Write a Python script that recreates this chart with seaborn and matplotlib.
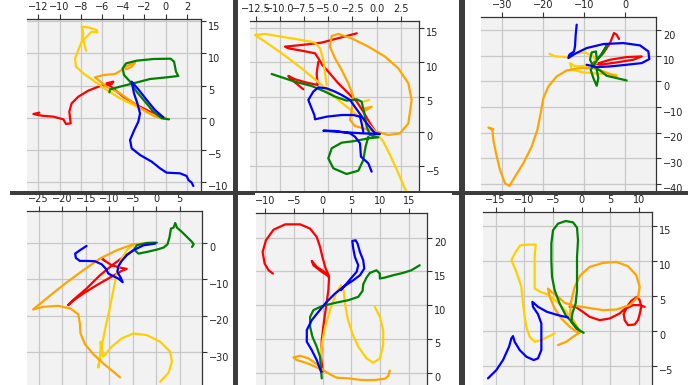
import matplotlib
matplotlib.use("Agg")
import matplotlib.pyplot as plt
import matplotlib.transforms as mtransforms
from matplotlib.patches import Rectangle
import seaborn as sns
import pandas as pd

# one list of (x, y) points per trajectory

# panel 1 (top left)
p1_red = [(-0.22, 0.05), (-1.48, 0.93), (-2.74, 1.97), (-3.99, 3.26), (-5.09, 4.72), (-5.57, 5.34),
          (-4.94, 5.60), (-5.09, 5.23), (-6.19, 4.92), (-7.30, 4.20), (-8.24, 3.26), (-8.87, 2.23),
          (-9.09, 0.93), (-8.96, -0.88), (-9.40, -0.98), (-9.65, -0.26), (-10.60, 0.16), (-11.70, 0.31),
          (-12.48, 0.57), (-11.92, 0.78)]
p1_gold = [(-0.53, -0.1), (-1.79, 0.93), (-3.05, 1.97), (-4.31, 3.01), (-5.57, 4.30), (-6.67, 5.60),
           (-7.77, 6.89), (-8.46, 7.93), (-8.55, 9.22), (-8.24, 10.52), (-7.92, 11.81), (-7.77, 13.11),
           (-7.92, 14.15), (-7.30, 14.04), (-6.51, 13.63), (-6.45, 13.26), (-6.98, 13.37), (-7.77, 12.07),
           (-7.52, 10.41)]
p1_orange = [(0, 0), (-1.0, 0.16), (-2.11, 1.19), (-3.21, 2.49), (-4.31, 3.78), (-5.57, 4.82), (-6.67, 6.27),
             (-5.88, 6.63), (-4.78, 6.79), (-4.15, 7.41), (-3.68, 8.03), (-2.89, 8.55), (-3.21, 7.93),
             (-3.74, 7.51)]
p1_green = [(0.31, -0.26), (-0.38, -0.1), (-1.16, 0.93), (-1.95, 2.49), (-2.74, 4.04), (-3.36, 5.60),
            (-3.93, 6.63), (-4.06, 7.67), (-3.74, 8.44), (-2.74, 8.86), (-1.16, 9.12), (0.47, 9.17),
            (0.79, 8.70), (0.97, 7.15), (1.19, 6.48), (0.09, 6.27), (-1.48, 6.01), (-3.05, 5.34),
            (-4.31, 4.82), (-5.25, 4.40), (-5.31, 3.94)]
p1_blue = [(-0.22, 0.05), (-1.01, 1.19), (-1.79, 2.75), (-2.58, 4.40), (-3.21, 5.60), (-2.99, 3.78),
           (-2.67, 2.23), (-2.42, 0.67), (-2.58, -0.62), (-2.99, -2.02), (-3.36, -3.47), (-3.21, -4.77),
           (-2.42, -5.80), (-1.32, -6.84), (-0.53, -7.88), (0.09, -8.55), (1.35, -8.65), (1.98, -9.07),
           (2.14, -9.69), (2.45, -10.10), (2.61, -10.62)]

# panel 2 (top middle)
p2_red = [(0, -0.24), (-0.69, 1.20), (-1.38, 2.88), (-2.06, 4.33), (-2.92, 5.53), (-3.96, 6.97),
          (-4.99, 8.65), (-5.61, 9.62), (-6.02, 10.58), (-6.36, 11.30), (-7.74, 11.68), (-9.12, 12.02),
          (-9.46, 12.26), (-7.74, 12.50), (-5.68, 12.84), (-3.61, 13.61), (-2.06, 14.18)]
p2_red_hook = [(-6.02, 10.10), (-6.19, 8.41), (-6.09, 6.73), (-7.22, 7.07), (-8.43, 7.55), (-9.12, 8.03),
               (-8.94, 7.69), (-7.57, 6.11)]
p2_gold = [(3.10, -8.80), (2.24, -6.01), (1.38, -3.37), (0.69, -1.44), (0, -0.24), (-0.86, 1.11),
           (-2.24, 2.64), (-3.96, 4.57), (-5.68, 6.73), (-7.74, 9.13), (-9.80, 11.30), (-11.52, 12.98),
           (-12.56, 13.94), (-11.52, 14.09), (-9.46, 13.61), (-7.74, 13.22), (-6.36, 12.84), (-5.85, 12.02),
           (-5.50, 10.34), (-5.33, 8.41), (-5.16, 6.73)]
p2_gold_tick = [(-1.38, 4.33), (-0.76, 4.57)]
p2_orange = [(0, 0), (1.20, -0.48), (2.41, -0.24), (3.27, 1.20), (3.61, 4.57), (3.27, 6.97), (2.24, 9.13),
             (0.86, 10.82), (-0.86, 12.26), (-2.58, 13.46), (-3.96, 14.09), (-4.64, 13.80), (-4.82, 12.26),
             (-4.30, 10.58), (-3.61, 8.89), (-2.92, 6.97), (-2.41, 5.05), (-2.58, 3.13), (-2.75, 1.68),
             (-2.24, 0.82), (-1.03, 0.34), (-0.17, 0)]
p2_orange_tick = [(-1.38, 3.3), (-0.52, 3.6), (-1.2, 3.0)]
p2_green = [(-10.84, 8.32), (-9.80, 7.84), (-8.43, 7.21), (-6.71, 6.59), (-5.33, 5.77), (-4.30, 5.05),
            (-3.10, 4.47), (-2.06, 4.66), (-1.55, 4.33), (-1.27, 2.64), (-1.03, 0.72), (-0.69, -0.48),
            (0.17, -0.82), (-0.86, -0.96), (-2.24, -1.35), (-3.61, -1.59), (-4.64, -2.40), (-4.99, -3.85),
            (-4.47, -5.29), (-3.10, -6.11), (-1.89, -5.63), (-1.38, -4.09), (-1.14, -2.16), (-0.86, -0.72)]
p2_blue = [(-0.52, -5.77), (-0.86, -4.57), (-1.62, -3.61), (-1.72, -1.68), (-2.24, -0.72), (-2.75, -0.24),
           (-4.30, 0.10), (-5.50, 0.14), (-3.61, -0.05), (-1.55, -0.24), (0.34, -0.34), (-0.17, -0.24),
           (-1.03, 1.20), (-1.89, 2.88), (-2.75, 4.57), (-3.61, 5.29), (-4.30, 5.77), (-5.16, 6.25),
           (-6.02, 6.39), (-6.54, 5.77), (-7.05, 4.57), (-6.78, 3.61), (-6.43, 2.40), (-6.36, 1.78),
           (-5.16, 2.16), (-3.61, 2.40), (-2.41, 2.40), (-1.72, 2.16), (-1.55, 1.20), (-1.38, 0)]

# panel 3 (top right)
p3_red = [(-7.70, 6.54), (-3.65, 8.50), (0.41, 9.54), (4.06, 9.80), (2.03, 8.50), (-2.03, 7.45),
          (-6.08, 6.54), (-7.70, 7.19), (-5.27, 11.11), (-3.65, 15.03), (-3.00, 17.65), (-2.68, 18.95),
          (-2.03, 18.30), (-1.46, 16.60)]
p3_gold = [(-18.41, 10.85), (-17.03, 9.80), (-14.19, 9.54), (-12.17, 10.85), (-9.73, 11.37), (-7.70, 9.80),
           (-6.89, 7.19), (-9.33, 6.14), (-12.17, 5.88), (-13.38, 7.19), (-12.98, 4.58), (-10.14, 3.53),
           (-6.08, 3.01), (-2.03, 2.61)]
p3_orange = [(-2.03, 1.96), (-5.27, 3.92), (-7.70, 5.23), (-10.95, 5.23), (-14.19, 4.31), (-16.63, 1.96),
             (-18.65, -1.96), (-19.87, -6.54), (-20.52, -12.42), (-21.33, -18.95), (-22.71, -25.49),
             (-24.74, -32.03), (-26.76, -37.25), (-28.14, -40.92), (-29.20, -39.87), (-30.41, -34.64),
             (-31.39, -28.10), (-32.04, -22.88), (-32.28, -18.95), (-33.25, -18.04), (-32.04, -18.69)]
p3_green = [(0.41, 0.39), (-2.03, 1.31), (-4.46, 2.22), (-6.08, 4.31), (-7.70, 5.88), (-8.52, 8.50),
            (-8.11, 11.37), (-7.06, 11.76), (-6.89, 8.76), (-5.68, 10.46), (-4.46, 13.99), (-5.68, 10.85),
            (-7.30, 7.19), (-8.35, 4.58), (-7.70, 1.31), (-6.89, -1.70), (-6.49, 1.31), (-6.89, 4.58)]
p3_blue = [(-11.76, 22.22), (-12.00, 18.30), (-12.17, 13.73), (-12.41, 11.76), (-13.54, 10.46),
           (-13.79, 9.15), (-12.17, 10.85), (-9.33, 13.07), (-5.27, 14.64), (-0.41, 15.03), (3.65, 14.12),
           (5.68, 11.76), (5.92, 8.76), (4.06, 7.19), (0.41, 6.54), (-3.65, 5.88), (-6.89, 5.62),
           (-9.33, 6.54)]

# panel 4 (bottom left)
p4_red = [(-4.85, -2.09), (-6.98, -3.91), (-9.12, -5.91), (-11.97, -8.91), (-14.83, -12.55),
          (-17.32, -15.27), (-18.75, -17.09), (-18.03, -16.18), (-15.54, -13.91), (-12.69, -11.64),
          (-9.84, -9.55), (-7.34, -7.73), (-6.27, -7.18), (-7.70, -6.82), (-9.48, -6.18), (-10.91, -5.00),
          (-11.62, -4.18), (-11.12, -4.82)]
p4_gold = [(-4.85, -0.45), (-6.27, -2.09), (-7.56, -4.82), (-8.41, -8.45), (-9.12, -13.00), (-9.98, -18.45),
           (-10.91, -23.91), (-11.62, -28.45), (-12.33, -34.09), (-11.83, -30.27), (-11.83, -27.09),
           (-11.26, -31.18), (-9.48, -28.45), (-7.34, -26.18), (-4.85, -24.82), (-2.00, -25.27),
           (0.86, -27.09), (2.99, -29.82), (3.35, -32.55), (2.64, -35.55), (0.86, -38.00)]
p4_orange = [(-0.57, 0), (-4.85, -0.45), (-8.41, -2.09), (-11.97, -4.36), (-15.54, -7.55), (-19.10, -10.91),
             (-22.67, -14.55), (-26.23, -18.27), (-24.09, -17.55), (-20.88, -17.27), (-18.25, -18.00),
             (-16.61, -19.55), (-16.25, -22.09), (-16.11, -24.82), (-15.18, -27.73), (-13.40, -30.45),
             (-11.12, -33.18), (-9.12, -35.27), (-7.70, -36.82)]
p4_green = [(0.14, 0), (-2.00, -0.09), (-4.13, -0.73), (-4.70, -1.91), (-3.78, -3.00), (-2.00, -2.55),
            (0.14, -1.91), (1.57, -1.36), (2.42, -0.45), (2.85, 1.55), (3.14, 3.82), (3.71, 4.09),
            (4.06, 5.36), (4.42, 4.09), (5.49, 2.91), (6.56, 1.55), (7.63, 0.18), (7.98, -0.45), (7.63, -1.18)]
p4_blue = [(-0.21, -0.27), (-2.71, -0.73), (-4.85, -2.09), (-6.27, -3.45), (-7.34, -5.00), (-8.05, -6.45),
           (-8.27, -8.00), (-7.56, -9.55), (-7.13, -10.82), (-8.05, -9.82), (-9.12, -9.18), (-10.19, -8.45),
           (-10.69, -7.18), (-11.62, -5.91), (-13.04, -5.09), (-14.83, -5.00), (-16.25, -5.00),
           (-17.11, -4.18), (-17.25, -3.00), (-16.25, -2.09), (-14.83, -0.91)]

# panel 5 (bottom middle)
p5_red = [(0, 0.15), (-0.29, 2.36), (-0.17, 4.83), (0.17, 7.29), (0.58, 9.75), (0.98, 12.22), (1.10, 14.09),
          (0.29, 14.93), (-1.04, 15.67), (-1.91, 16.55), (-1.62, 15.91), (-0.17, 14.93), (1.10, 14.29),
          (0.52, 15.42), (-0.06, 17.14), (-0.46, 18.62), (-1.04, 20.10), (-2.19, 21.33), (-3.93, 21.97),
          (-6.52, 21.97), (-8.55, 21.18), (-9.87, 19.61), (-10.45, 17.88), (-10.10, 16.16), (-9.41, 15.17),
          (-8.66, 14.68)]
p5_gold = [(-0.46, 0.39), (-0.29, 3.35), (0.29, 6.31), (1.27, 9.26), (2.31, 11.72), (3.18, 12.96),
           (3.64, 12.22), (3.87, 10.25), (4.33, 8.03), (5.14, 5.81), (6.18, 3.84), (7.62, 2.12), (8.78, 1.48),
           (9.93, 2.12), (10.51, 4.09), (10.51, 6.31), (9.93, 8.28), (9.06, 9.75)]
p5_orange = [(-0.06, 0.39), (-1.33, 0.89), (-2.94, 1.48), (-4.50, 1.87), (-5.08, 2.27), (-3.93, 2.51),
             (-2.48, 2.12), (-1.04, 1.28), (0.12, 0.39), (1.27, -0.25), (2.42, -0.74), (4.45, -0.84),
             (6.76, -1.08), (9.06, -1.08), (10.80, -0.89), (11.37, -0.49), (11.66, 0.30)]
p5_green = [(-0.17, -0.84), (-0.29, 0.39), (-0.46, 2.36), (-1.04, 3.84), (-1.79, 5.32), (-2.19, 6.80),
            (-2.19, 8.28), (-1.62, 9.26), (-0.17, 9.85), (2.14, 10.34), (4.45, 10.74), (6.18, 11.23),
            (6.93, 12.12), (7.04, 13.10), (7.62, 14.09), (8.20, 14.78), (9.35, 15.17), (9.93, 14.68),
            (9.93, 13.94), (10.80, 14.09), (12.24, 14.43), (13.97, 14.78), (15.42, 15.17), (16.86, 15.91)]
p5_blue = [(-0.29, 0.15), (-1.04, 1.87), (-1.91, 3.35), (-2.77, 4.58), (-2.77, 6.31), (-1.91, 7.78),
           (-0.75, 9.01), (0.69, 10.49), (2.14, 11.72), (3.58, 12.71), (5.31, 13.69), (6.47, 14.43),
           (7.22, 15.42), (7.04, 16.65), (6.47, 17.88), (6.06, 19.11), (5.72, 19.61), (5.14, 19.51),
           (5.31, 18.37), (5.60, 17.14), (6.18, 15.91), (5.89, 14.93), (4.73, 13.79), (3.18, 12.22)]

# panel 6 (bottom right)
p6_red = [(-2.09, 3.43), (-1.22, 3.52), (-0.06, 2.86), (1.40, 2.00), (3.14, 1.52), (4.88, 1.76), (6.63, 2.48),
          (7.79, 3.33), (8.66, 4.29), (9.65, 4.86), (10.12, 4.38), (10.41, 3.43), (10.12, 2.38), (9.83, 1.52),
          (9.24, 0.90), (8.08, 0.81), (7.50, 1.52), (7.33, 2.38), (7.79, 3.19), (8.95, 3.67), (10.12, 3.67),
          (10.99, 3.43)]
p6_gold = [(-4.71, -0.38), (-5.87, -0.86), (-7.03, -1.33), (-8.20, -1.57), (-9.07, -0.86), (-9.65, 0.57),
           (-9.94, 2.00), (-10.23, 3.90), (-10.52, 6.29), (-11.10, 7.71), (-11.69, 9.05), (-12.27, 10.10),
           (-11.51, 11.29), (-10.70, 12.24), (-9.36, 12.33), (-8.02, 12.33), (-8.20, 10.57), (-8.20, 8.19),
           (-8.20, 6.05), (-7.21, 5.57), (-6.05, 5.24), (-5.00, 4.67), (-3.95, 3.90), (-2.79, 2.86),
           (-1.80, 1.76), (-0.93, 0.81), (-0.23, -0.14)]
p6_orange = [(-4.13, -2.05), (-2.67, -1.57), (-1.51, -0.86), (-0.35, -0.29), (-1.22, 1.05), (-1.98, 2.24),
             (-1.92, 3.90), (-1.22, 6.29), (-0.23, 7.95), (1.40, 9.14), (3.72, 9.71), (6.05, 9.86), (8.08, 9.24),
             (9.53, 7.95), (10.12, 6.29), (9.83, 4.86), (8.37, 3.67), (6.05, 3.05), (3.72, 2.95), (0.81, 3.33),
             (-1.51, 3.62), (-2.97, 4.00), (-4.13, 4.86), (-5.29, 5.57), (-5.87, 6.05), (-5.58, 4.86),
             (-4.71, 3.19), (-3.55, 1.76), (-2.09, 0.57), (-0.64, -0.29)]
p6_green = [(0.35, -0.29), (-0.93, 0.33), (-1.80, 1.29), (-1.63, 2.48), (-1.05, 3.90), (-0.81, 5.81),
            (-0.81, 8.19), (-0.81, 10.57), (-0.64, 12.95), (-0.81, 14.76), (-1.51, 15.52), (-2.79, 15.71),
            (-4.13, 15.33), (-5.00, 14.38), (-5.29, 12.48), (-5.29, 10.10), (-5.17, 7.71), (-4.71, 5.81),
            (-3.84, 3.90), (-2.79, 2.24), (-1.51, 1.05), (-0.35, 0)]
p6_blue = [(-2.38, 1.90), (-4.13, 2.24), (-6.05, 2.71), (-7.62, 3.43), (-8.60, 4.14), (-8.49, 3.43),
           (-7.62, 2.38), (-7.03, 1.05), (-7.03, -0.86), (-7.03, -2.76), (-7.62, -3.95), (-8.37, -4.19),
           (-9.65, -3.71), (-10.81, -2.76), (-11.69, -1.57), (-11.98, -0.76), (-12.27, -1.10),
           (-12.67, -2.29), (-13.72, -4.19), (-14.88, -5.62), (-16.34, -6.81)]

RED, GOLD, ORANGE, GREEN, BLUE = "#ff0000", "#ffd000", "#ffa500", "#008000", "#0000ff"

W, H = 696, 385

sns.set_theme(style="whitegrid", rc={
    "axes.facecolor": "#f2f2f2",
    "grid.color": "#c8c8c8",
    "grid.linewidth": 0.9,
})

fig = plt.figure(figsize=(W / 100, H / 100), dpi=100)
fig.patch.set_facecolor("white")

# box = (left, right, top, bottom) in pixels of the composite
panels = [
    dict(box=(27, 201, 19, 191), xlim=(-13.08, 3.33), ylim=(-11.4, 15.34),
         xticks=range(-12, 3, 2), yticks=range(-10, 16, 5),
         lines=[(p1_red, RED), (p1_gold, GOLD), (p1_orange, ORANGE), (p1_green, GREEN), (p1_blue, BLUE)]),
    dict(box=(250, 419, 21, 191), xlim=(-13.07, 4.37), ylim=(-8.56, 15.96),
         xticks=[-12.5, -10, -7.5, -5, -2.5, 0, 2.5], yticks=range(-5, 16, 5),
         lines=[(p2_red, RED), (p2_red_hook, RED), (p2_gold, GOLD), (p2_gold_tick, GOLD),
                (p2_orange, ORANGE), (p2_orange_tick, ORANGE), (p2_green, GREEN), (p2_blue, BLUE)]),
    dict(box=(481, 656, 17, 191), xlim=(-35.04, 7.54), ylim=(-42.88, 25.23),
         xticks=range(-30, 1, 10), yticks=range(-40, 21, 10),
         lines=[(p3_red, RED), (p3_gold, GOLD), (p3_orange, ORANGE), (p3_green, GREEN), (p3_blue, BLUE)]),
    dict(box=(27, 202, 211, 385), xlim=(-27.51, 9.76), ylim=(-38.9, 8.64),
         xticks=range(-25, 6, 5), yticks=range(-30, 1, 10),
         lines=[(p4_red, RED), (p4_gold, GOLD), (p4_orange, ORANGE), (p4_green, GREEN), (p4_blue, BLUE)]),
    dict(box=(256, 427, 213, 385), xlim=(-11.6, 18.13), ylim=(-1.82, 23.65),
         xticks=range(-10, 16, 5), yticks=range(0, 21, 5),
         lines=[(p5_red, RED), (p5_gold, GOLD), (p5_orange, ORANGE), (p5_green, GREEN), (p5_blue, BLUE)]),
    dict(box=(483, 652, 212, 385), xlim=(-17.21, 12.27), ylim=(-7.76, 17.0),
         xticks=range(-15, 11, 5), yticks=range(-5, 16, 5),
         lines=[(p6_red, RED), (p6_gold, GOLD), (p6_orange, ORANGE), (p6_green, GREEN), (p6_blue, BLUE)]),
]

label_shift = mtransforms.ScaledTranslation(0, -0.045, fig.dpi_scale_trans)

for p in panels:
    l, r, t, b = p["box"]
    ax = fig.add_axes([l / W, 1 - b / H, (r - l) / W, (b - t) / H])
    for pts, color in p["lines"]:
        df = pd.DataFrame(pts, columns=["x", "y"])
        sns.lineplot(data=df, x="x", y="y", sort=False, estimator=None,
                     color=color, lw=1.6, ax=ax)
    ax.set_xlim(*p["xlim"])
    ax.set_ylim(*p["ylim"])
    ax.set_xticks(list(p["xticks"]))
    ax.set_yticks(list(p["yticks"]))
    ax.set_xlabel("")
    ax.set_ylabel("")
    ax.xaxis.tick_top()
    ax.yaxis.tick_right()
    for side in ["left", "bottom"]:
        ax.spines[side].set_visible(False)
    for side in ["top", "right"]:
        ax.spines[side].set_visible(True)
        ax.spines[side].set_color("#333333")
        ax.spines[side].set_linewidth(0.9)
    ax.tick_params(length=3.5, width=0.8, pad=1.5, labelsize=7,
                   color="#333333", labelcolor="#222222")
    ax.grid(True, color="#c8c8c8", lw=0.9)
    ax.set_axisbelow(True)
    for tick in ax.yaxis.get_major_ticks():
        tick.label2.set_transform(tick.label2.get_transform() + label_shift)

# dark gaps between the six pictures
DARK = "#3c3c3c"
gaps = [(233, 238, 0, 385), (459, 465, 0, 385),
        (10, 255, 191, 195), (255, 452, 191, 193), (452, 688, 191, 195)]
for x0, x1, y0, y1 in gaps:
    fig.add_artist(Rectangle((x0 / W, 1 - y1 / H), (x1 - x0) / W, (y1 - y0) / H,
                             transform=fig.transFigure, color=DARK, lw=0, zorder=10))

fig.savefig("out.png", dpi=100)
